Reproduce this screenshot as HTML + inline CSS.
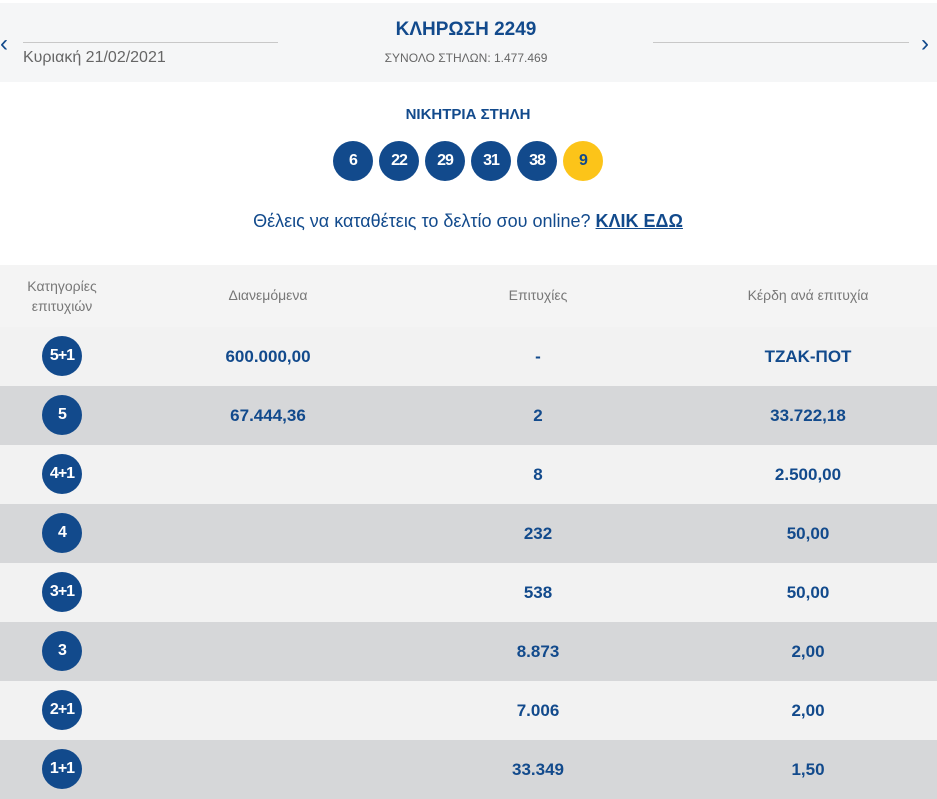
<!DOCTYPE html>
<html><head><meta charset="utf-8"><style>
body{margin:0;width:937px;height:790px;overflow:hidden;background:#fff;font-family:"Liberation Sans","DejaVu Sans",sans-serif;color:#124a8c;position:relative}
.a{position:absolute}
.top{left:0;top:3px;width:937px;height:79px;background:#f5f6f7}
.c{position:absolute;transform:translateX(-50%);white-space:nowrap}
.ball{position:absolute;width:40px;height:40px;border-radius:50%;background:#124a8c;color:#fff;font-weight:bold;font-size:16px;display:flex;align-items:center;justify-content:center;letter-spacing:-1px}
.row{position:absolute;left:0;width:937px;height:59px}
.v{position:absolute;transform:translateX(-50%);font-weight:bold;font-size:17px;white-space:nowrap;line-height:59px}
.h{color:#777;font-size:14px}
</style></head><body>
<div class="a top"></div>
<div class="a" style="left:0;top:30px;font-size:24px;color:#124a8c">‹</div>
<div class="a" style="left:921px;top:30px;font-size:24px;color:#124a8c">›</div>
<div class="a" style="left:23px;top:42px;width:255px;height:1px;background:#c8c8c8"></div>
<div class="a" style="left:653px;top:42px;width:256px;height:1px;background:#c8c8c8"></div>
<div class="a" style="left:23px;top:49px;font-size:16px;color:#666">Κυριακή 21/02/2021</div>
<div class="c" style="left:466px;top:19px;font-size:19px;font-weight:bold">ΚΛΗΡΩΣΗ 2249</div>
<div class="c" style="left:466px;top:51px;font-size:12px;color:#666">ΣΥΝΟΛΟ ΣΤΗΛΩΝ: 1.477.469</div>
<div class="c" style="left:468px;top:106px;font-size:15px;font-weight:bold">ΝΙΚΗΤΡΙΑ ΣΤΗΛΗ</div>
<div class="ball" style="left:333px;top:141px">6</div>
<div class="ball" style="left:379px;top:141px">22</div>
<div class="ball" style="left:425px;top:141px">29</div>
<div class="ball" style="left:471px;top:141px">31</div>
<div class="ball" style="left:517px;top:141px">38</div>
<div class="ball" style="left:563px;top:141px;background:#fcc419;color:#124a8c">9</div>
<div class="c" style="left:468px;top:211px;font-size:18px">Θέλεις να καταθέτεις το δελτίο σου online? <b style="text-decoration:underline">ΚΛΙΚ ΕΔΩ</b></div>
<div class="row" style="top:265px;height:62px;background:#f4f4f4"></div>
<div class="c h" style="left:62px;top:276px;text-align:center;line-height:20px">Κατηγορίες<br>επιτυχιών</div>
<div class="c h" style="left:268px;top:287px">Διανεμόμενα</div>
<div class="c h" style="left:538px;top:287px">Επιτυχίες</div>
<div class="c h" style="left:808px;top:287px">Κέρδη ανά επιτυχία</div>

<div class="row" style="top:327px;background:#f2f2f2"></div>
<div class="row" style="top:386px;background:#d6d7d9"></div>
<div class="row" style="top:445px;background:#f2f2f2"></div>
<div class="row" style="top:504px;background:#d6d7d9"></div>
<div class="row" style="top:563px;background:#f2f2f2"></div>
<div class="row" style="top:622px;background:#d6d7d9"></div>
<div class="row" style="top:681px;background:#f2f2f2"></div>
<div class="row" style="top:740px;background:#d6d7d9"></div>

<div class="ball" style="left:42px;top:336px">5+1</div>
<div class="v" style="left:268px;top:327px">600.000,00</div><div class="v" style="left:538px;top:327px">-</div><div class="v" style="left:808px;top:327px">ΤΖΑΚ-ΠΟΤ</div>
<div class="ball" style="left:42px;top:395px">5</div>
<div class="v" style="left:268px;top:386px">67.444,36</div><div class="v" style="left:538px;top:386px">2</div><div class="v" style="left:808px;top:386px">33.722,18</div>
<div class="ball" style="left:42px;top:454px">4+1</div>
<div class="v" style="left:538px;top:445px">8</div><div class="v" style="left:808px;top:445px">2.500,00</div>
<div class="ball" style="left:42px;top:513px">4</div>
<div class="v" style="left:538px;top:504px">232</div><div class="v" style="left:808px;top:504px">50,00</div>
<div class="ball" style="left:42px;top:572px">3+1</div>
<div class="v" style="left:538px;top:563px">538</div><div class="v" style="left:808px;top:563px">50,00</div>
<div class="ball" style="left:42px;top:631px">3</div>
<div class="v" style="left:538px;top:622px">8.873</div><div class="v" style="left:808px;top:622px">2,00</div>
<div class="ball" style="left:42px;top:690px">2+1</div>
<div class="v" style="left:538px;top:681px">7.006</div><div class="v" style="left:808px;top:681px">2,00</div>
<div class="ball" style="left:42px;top:749px">1+1</div>
<div class="v" style="left:538px;top:740px">33.349</div><div class="v" style="left:808px;top:740px">1,50</div>
</body></html>
